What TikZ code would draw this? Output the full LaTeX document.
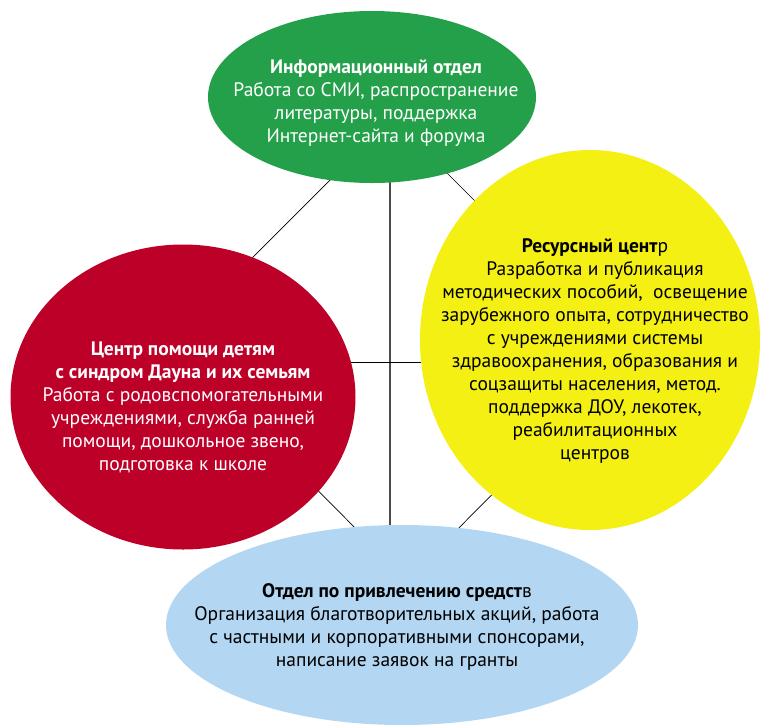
\documentclass[tikz,border=0pt]{standalone}
\usepackage{fontspec}
\setmainfont{PT Sans}
\usetikzlibrary{shapes.geometric}
\definecolor{cgreen}{HTML}{24A04A}
\definecolor{cred}{HTML}{BD0028}
\definecolor{cyellow}{HTML}{F4F014}
\definecolor{cblue}{HTML}{B3D7F2}
\tikzset{
  blob/.style={ellipse, draw=none, inner sep=0pt},
  txt/.style={align=center, font=\fontsize{19.5}{23}\selectfont, inner sep=0pt},
  link/.style={draw=black, line width=0.7pt},
  vlink/.style={draw=black!70, line width=1.1pt}
}
\begin{document}
\begin{tikzpicture}[x=1pt,y=-1pt]
\useasboundingbox[fill=white] (0,0) rectangle (761,724);
% diamond and cross
\coordinate (T) at (392,118);
\coordinate (R) at (630,356);
\coordinate (B) at (407,580);
\coordinate (L) at (169,341);
\coordinate (vt) at (390,150);
\coordinate (vb) at (390,560);
\coordinate (hl) at (300,362);
\coordinate (hr) at (480,362);
\draw[link] (T) -- (R) -- (B) -- (L) -- cycle;
\draw[vlink] (vt) -- (vb);
\draw[link] (hl) -- (hr);
% ellipses
\node[blob, fill=cgreen, minimum width=328pt, minimum height=172pt] (green) at (372,97) {};
\node[blob, fill=cred, minimum width=345pt, minimum height=305pt] (red) at (183,397) {};
\node[blob, fill=cyellow, minimum width=340pt, minimum height=380pt] (yellow) at (590,340) {};
\node[blob, fill=cblue, minimum width=472pt, minimum height=200pt] (blue) at (402,625) {};
% texts
\node[txt, text=white] (tgreen) at (376,103) {\textbf{Информационный отдел}\\Работа со СМИ, распространение\\литературы, поддержка\\Интернет-сайта и форума};
\node[txt, text=white] (tred) at (183,407) {\textbf{Центр помощи детям}\\\textbf{с синдром Дауна и их семьям}\\Работа с родовспомогательными\\учреждениями, служба ранней\\помощи, дошкольное звено,\\подготовка к школе};
\node[txt, text=black] (tyellow) at (595,351) {\textbf{Ресурсный цент}р\\Разработка и публикация\\методических пособий,\ \ освещение\\зарубежного опыта, сотрудничество\\с учреждениями системы\\здравоохранения, образования и\\соцзащиты населения, метод.\\поддержка ДОУ, лекотек,\\реабилитационных\\центров};
\node[txt, text=black] (tblue) at (397,627) {\textbf{Отдел по привлечению средст}в\\Организация благотворительных акций, работа\\с частными и корпоративными спонсорами,\\написание заявок на гранты};
\end{tikzpicture}
\end{document}
